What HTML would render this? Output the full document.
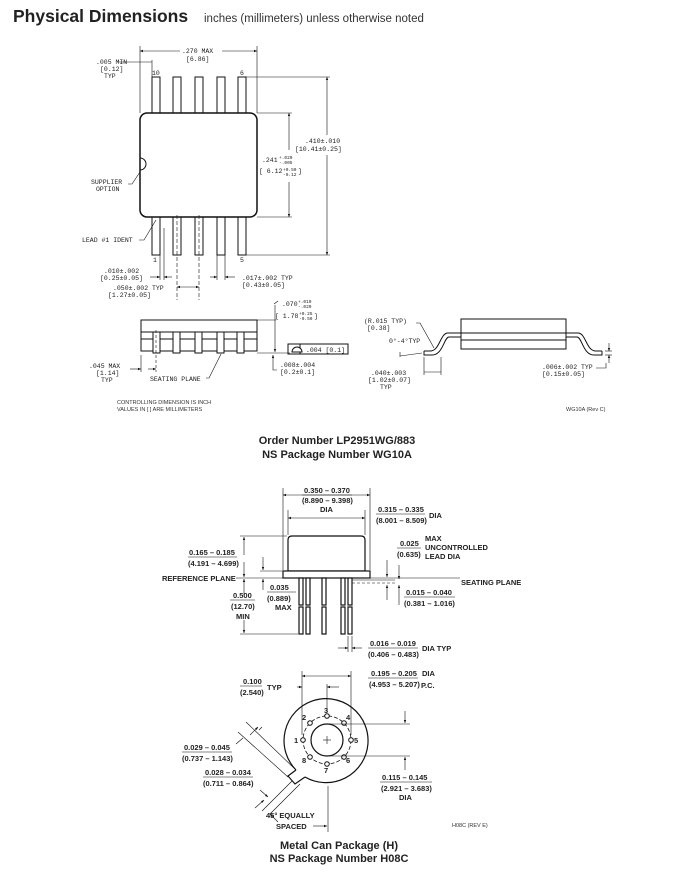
<!DOCTYPE html>
<html><head><meta charset="utf-8">
<style>
html,body{margin:0;padding:0;background:#fff;width:674px;height:878px;overflow:hidden}
svg{display:block}
.m{font-family:"Liberation Mono",monospace;font-size:6.5px;fill:#222}
.s{font-family:"Liberation Sans",sans-serif;font-size:7.5px;fill:#222;font-weight:bold}
.t{font-family:"Liberation Sans",sans-serif;font-size:5.5px;fill:#333}
</style></head><body>
<svg width="674" height="878" viewBox="0 0 674 878" xmlns="http://www.w3.org/2000/svg">
<defs><marker id="a" viewBox="0 0 10 10" refX="10" refY="5" markerWidth="5" markerHeight="5" orient="auto-start-reverse"><path d="M0,1 L10,5 L0,9z" fill="#111"/></marker></defs>
<text x="13" y="22" font-family="Liberation Sans,sans-serif" font-size="17.5" font-weight="bold" fill="#222">Physical Dimensions</text>
<text x="204" y="22" font-family="Liberation Sans,sans-serif" font-size="11.5" fill="#333">inches (millimeters) unless otherwise noted</text>

<g stroke="#111" fill="#fff" stroke-width="1">
<rect x="152" y="77" width="8" height="36"/><rect x="173" y="77" width="8" height="36"/><rect x="195" y="77" width="8" height="36"/><rect x="217" y="77" width="8" height="36"/><rect x="238" y="77" width="8" height="36"/>
<rect x="152" y="217" width="8" height="38"/><rect x="173" y="217" width="8" height="38"/><rect x="195" y="217" width="8" height="38"/><rect x="217" y="217" width="8" height="38"/><rect x="238" y="217" width="8" height="38"/>
<rect x="140" y="113" width="117" height="104" rx="7" stroke-width="1.5"/>
<path d="M140,158 a6,6 0 0 1 0,12" fill="none"/>
</g>
<g stroke="#111" stroke-width="0.6" fill="none">
<line x1="140" y1="46" x2="140" y2="113"/><line x1="257" y1="46" x2="257" y2="113"/>
<line x1="140" y1="51" x2="180" y2="51" marker-start="url(#a)"/><line x1="222" y1="51" x2="257" y2="51" marker-end="url(#a)"/>
<line x1="118" y1="62" x2="152" y2="62"/><line x1="152" y1="60" x2="152" y2="77"/>
<line x1="246" y1="77" x2="330" y2="77"/><line x1="246" y1="255" x2="330" y2="255"/>
<line x1="327" y1="135" x2="327" y2="77" marker-end="url(#a)"/><line x1="327" y1="155" x2="327" y2="255" marker-end="url(#a)"/>
<line x1="257" y1="113" x2="292" y2="113"/><line x1="257" y1="217" x2="292" y2="217"/>
<line x1="289" y1="150" x2="289" y2="113" marker-end="url(#a)"/><line x1="289" y1="182" x2="289" y2="217" marker-end="url(#a)"/>
<path d="M128,184 l4,0 l8,-12"/><path d="M139,240 l5,0 l12,-20"/>
<line x1="160" y1="255" x2="160" y2="280"/><line x1="164" y1="228" x2="164" y2="280"/>
<line x1="177" y1="215" x2="177" y2="300" stroke-dasharray="4,2"/><line x1="199" y1="215" x2="199" y2="300" stroke-dasharray="4,2"/>
<line x1="217" y1="255" x2="217" y2="280"/><line x1="225" y1="255" x2="225" y2="280"/>
<line x1="150" y1="277" x2="160" y2="277" marker-end="url(#a)"/><line x1="172" y1="277" x2="164" y2="277" marker-end="url(#a)"/>
<line x1="210" y1="277" x2="217" y2="277" marker-end="url(#a)"/><line x1="235" y1="277" x2="225" y2="277" marker-end="url(#a)"/>
<line x1="177" y1="287" x2="199" y2="287" marker-start="url(#a)" marker-end="url(#a)"/>
</g>
<g class="m">
<text x="182" y="53">.270  MAX</text><text x="186" y="61">[6.86]</text>
<text x="96" y="64">.005 MIN</text><text x="100" y="71">[0.12]</text><text x="104" y="78">TYP</text>
<text x="152" y="75">10</text><text x="240" y="75">6</text>
<text x="153" y="262">1</text><text x="240" y="262">5</text>
<text x="305" y="143">.410±.010</text><text x="295" y="151">[10.41±0.25]</text>
<text x="262" y="162">.241</text><text x="279" y="159" font-size="4.5">+.020</text><text x="279" y="164" font-size="4.5">-.005</text>
<text x="259" y="173">[ 6.12</text><text x="283" y="171" font-size="4.5">+0.50</text><text x="283" y="176" font-size="4.5">-0.12</text><text x="298" y="173">]</text>
<text x="91" y="184">SUPPLIER</text><text x="96" y="191">OPTION</text>
<text x="82" y="242">LEAD #1 IDENT</text>
<text x="104" y="273">.010±.002</text><text x="100" y="280">[0.25±0.05]</text>
<text x="242" y="280">.017±.002  TYP</text><text x="242" y="287">[0.43±0.05]</text>
<text x="113" y="290">.050±.002  TYP</text><text x="108" y="297">[1.27±0.05]</text>
</g>

<g stroke="#111" fill="#fff" stroke-width="1">
<rect x="141" y="320" width="116" height="31"/>
<line x1="141" y1="332" x2="257" y2="332"/><line x1="141" y1="339" x2="257" y2="339"/>
<rect x="153" y="332" width="7" height="21"/><rect x="173" y="332" width="7" height="21"/><rect x="195" y="332" width="7" height="21"/><rect x="217" y="332" width="7" height="21"/><rect x="237" y="332" width="7" height="21"/>
<rect x="288" y="344" width="60" height="10"/><line x1="300" y1="344" x2="300" y2="354"/>
<path d="M292,352 a5,5 0 0 1 10,0z"/>
</g>
<g stroke="#111" stroke-width="0.6" fill="none">
<line x1="257" y1="320" x2="276" y2="320"/><line x1="257" y1="353" x2="290" y2="353"/>
<line x1="275" y1="305" x2="275" y2="352" marker-end="url(#a)"/>
<line x1="273" y1="355" x2="273" y2="366" marker-start="url(#a)"/><path d="M273,366 l0,4 l4,0"/>
<path d="M274,304 l4,-3"/>
<line x1="141" y1="355" x2="141" y2="372"/><line x1="156" y1="330" x2="156" y2="372" stroke-dasharray="3,2"/>
<line x1="130" y1="369" x2="141" y2="369" marker-end="url(#a)"/><line x1="148" y1="369" x2="156" y2="369" marker-end="url(#a)"/>
<path d="M206,378 l3,0 l12,-24"/>
</g>
<g class="m">
<text x="282" y="306">.070</text><text x="298" y="303" font-size="4.5">+.010</text><text x="298" y="308" font-size="4.5">-.020</text>
<text x="275" y="318">[ 1.78</text><text x="299" y="315" font-size="4.5">+0.25</text><text x="299" y="320" font-size="4.5">-0.50</text><text x="314" y="318">]</text>
<text x="306" y="352">.004 [0.1]</text>
<text x="280" y="367">.008±.004</text><text x="280" y="374">[0.2±0.1]</text>
<text x="89" y="368">.045 MAX</text><text x="96" y="375">[1.14]</text><text x="101" y="382">TYP</text>
<text x="150" y="381">SEATING PLANE</text>
</g>
<text class="t" x="117" y="404">CONTROLLING DIMENSION IS INCH</text>
<text class="t" x="117" y="411">VALUES IN [ ] ARE MILLIMETERS</text>

<g stroke="#111" fill="none" stroke-width="1">
<rect x="461" y="319" width="105" height="30" fill="#fff"/>
<line x1="461" y1="333" x2="566" y2="333"/><line x1="461" y1="340" x2="566" y2="340"/>
<path d="M461,333 L448,333 C440,333 440,351 430,351 L424,351 M461,337 L449,337 C444,337 443,355 432,355 L424,355 L424,351"/>
<path d="M566,333 L578,333 C586,333 586,351 596,351 L602,351 M566,337 L577,337 C582,337 583,355 594,355 L602,355 L602,351"/>
</g>
<g stroke="#111" stroke-width="0.6" fill="none">
<path d="M416,323 l4,0 l14,25"/>
<line x1="424" y1="357" x2="424" y2="375"/><line x1="441" y1="357" x2="441" y2="375"/>
<line x1="424" y1="372" x2="441" y2="372"/>
<line x1="400" y1="356" x2="422" y2="353"/><line x1="400" y1="357" x2="400" y2="352"/>
<line x1="605" y1="351" x2="612" y2="351"/><line x1="605" y1="355" x2="612" y2="355"/>
<line x1="609" y1="343" x2="609" y2="351" marker-end="url(#a)"/><line x1="609" y1="363" x2="609" y2="355" marker-end="url(#a)"/>
<path d="M596,368 l10,0 l0,-5"/>
</g>
<g class="m">
<text x="364" y="323">(R.015  TYP)</text><text x="367" y="330">[0.38]</text>
<text x="389" y="343">0°-4°TYP</text>
<text x="371" y="375">.040±.003</text><text x="368" y="382">[1.02±0.07]</text><text x="380" y="389">TYP</text>
<text x="542" y="369">.006±.002  TYP</text><text x="542" y="376">[0.15±0.05]</text>
</g>
<text class="t" x="566" y="411" font-size="4.5">WG10A (Rev C)</text>

<text x="337" y="444" text-anchor="middle" font-family="Liberation Sans,sans-serif" font-size="11" font-weight="bold" fill="#222">Order Number LP2951WG/883</text>
<text x="337" y="458" text-anchor="middle" font-family="Liberation Sans,sans-serif" font-size="11" font-weight="bold" fill="#222">NS Package Number WG10A</text>

<g stroke="#111" fill="#fff" stroke-width="1.2">
<path d="M288,571 L288,540 Q288,536 292,536 L361,536 Q365,536 365,540 L365,571z"/>
<rect x="283" y="571" width="87" height="7"/>
<rect x="299" y="578" width="4" height="27"/><rect x="306" y="578" width="4" height="27"/><rect x="322" y="578" width="4" height="27"/><rect x="341" y="578" width="4" height="27"/><rect x="348" y="578" width="4" height="27"/>
<rect x="299" y="607" width="4" height="27"/><rect x="306" y="607" width="4" height="27"/><rect x="322" y="607" width="4" height="27"/><rect x="341" y="607" width="4" height="27"/><rect x="348" y="607" width="4" height="27"/>
</g>
<g stroke="#111" stroke-width="0.6" fill="none">
<line x1="283" y1="488" x2="283" y2="570"/><line x1="370" y1="488" x2="370" y2="570"/>
<line x1="288" y1="510" x2="288" y2="535"/><line x1="365" y1="510" x2="365" y2="535"/>
<line x1="283" y1="495" x2="370" y2="495" marker-start="url(#a)" marker-end="url(#a)"/>
<line x1="288" y1="518" x2="365" y2="518" marker-start="url(#a)" marker-end="url(#a)"/>
<line x1="240" y1="536" x2="287" y2="536"/><line x1="240" y1="634" x2="298" y2="634"/>
<line x1="244" y1="555" x2="244" y2="537" marker-end="url(#a)"/><line x1="244" y1="562" x2="244" y2="577" marker-end="url(#a)"/>
<line x1="244" y1="595" x2="244" y2="579" marker-end="url(#a)"/><line x1="244" y1="620" x2="244" y2="633" marker-end="url(#a)"/>
<line x1="260" y1="571" x2="283" y2="571"/><line x1="263" y1="557" x2="263" y2="570" marker-end="url(#a)"/><line x1="263" y1="590" x2="263" y2="579" marker-end="url(#a)"/>
<line x1="236" y1="578" x2="283" y2="578"/>
<line x1="370" y1="578" x2="460" y2="578"/><line x1="352" y1="583" x2="395" y2="583" stroke-dasharray="3,2"/><line x1="352" y1="580" x2="395" y2="580"/>
<line x1="387" y1="560" x2="387" y2="577" marker-end="url(#a)"/><line x1="387" y1="600" x2="387" y2="585" marker-end="url(#a)"/>
<line x1="399" y1="565" x2="399" y2="579" marker-end="url(#a)"/><line x1="399" y1="605" x2="399" y2="585" marker-end="url(#a)"/>
<line x1="348" y1="636" x2="348" y2="652"/><line x1="352" y1="636" x2="352" y2="652"/>
<line x1="338" y1="648" x2="348" y2="648" marker-end="url(#a)"/><line x1="362" y1="648" x2="352" y2="648" marker-end="url(#a)"/>
</g>
<g class="s">
<text x="304" y="493">0.350 – 0.370</text><line x1="302" y1="495" x2="352" y2="495" stroke="#111" stroke-width="0.6"/><text x="302" y="503">(8.890 – 9.398)</text><text x="320" y="512">DIA</text>
<text x="378" y="512">0.315 – 0.335</text><line x1="376" y1="514" x2="425" y2="514" stroke="#111" stroke-width="0.6"/><text x="376" y="523">(8.001 – 8.509)</text><text x="429" y="518">DIA</text>
<text x="189" y="555">0.165 – 0.185</text><line x1="188" y1="557" x2="237" y2="557" stroke="#111" stroke-width="0.6"/><text x="188" y="566">(4.191 – 4.699)</text>
<text x="162" y="581">REFERENCE PLANE</text>
<text x="400" y="546">0.025</text><line x1="397" y1="548" x2="421" y2="548" stroke="#111" stroke-width="0.6"/><text x="397" y="557">(0.635)</text>
<text x="425" y="541">MAX</text><text x="425" y="550">UNCONTROLLED</text><text x="425" y="559">LEAD DIA</text>
<text x="461" y="585">SEATING PLANE</text>
<text x="270" y="590">0.035</text><line x1="267" y1="592" x2="296" y2="592" stroke="#111" stroke-width="0.6"/><text x="267" y="601">(0.889)</text><text x="275" y="610">MAX</text>
<text x="233" y="598">0.500</text><line x1="230" y1="600" x2="255" y2="600" stroke="#111" stroke-width="0.6"/><text x="231" y="609">(12.70)</text><text x="236" y="619">MIN</text>
<text x="406" y="595">0.015 – 0.040</text><line x1="404" y1="597" x2="455" y2="597" stroke="#111" stroke-width="0.6"/><text x="404" y="606">(0.381 – 1.016)</text>
<text x="370" y="646">0.016 – 0.019</text><line x1="368" y1="648" x2="418" y2="648" stroke="#111" stroke-width="0.6"/><text x="368" y="657">(0.406 – 0.483)</text><text x="422" y="651">DIA TYP</text>
</g>

<g stroke="#111" fill="none" stroke-width="1.2">
<path d="M296,770 A42,42 0 1 1 305,777" />
<path d="M296,770 L288,776 L295,784 L305,777"/>
<circle cx="327" cy="740" r="16"/>
<circle cx="327" cy="740" r="24" stroke-width="0.8" stroke-dasharray="4,2"/>
</g>
<g fill="#fff" stroke="#111" stroke-width="1">
<circle cx="327" cy="716" r="2.3"/><circle cx="344" cy="723" r="2.3"/><circle cx="351" cy="740" r="2.3"/><circle cx="344" cy="757" r="2.3"/><circle cx="327" cy="764" r="2.3"/><circle cx="310" cy="757" r="2.3"/><circle cx="303" cy="740" r="2.3"/><circle cx="310" cy="723" r="2.3"/>
</g>
<g stroke="#111" stroke-width="0.6" fill="none">
<line x1="323" y1="740" x2="331" y2="740"/><line x1="327" y1="736" x2="327" y2="744"/>
<line x1="302" y1="671" x2="302" y2="735"/><line x1="351" y1="671" x2="351" y2="735"/>
<line x1="302" y1="676" x2="351" y2="676" marker-start="url(#a)" marker-end="url(#a)"/>
<line x1="327" y1="684" x2="327" y2="712"/>
<line x1="297" y1="687" x2="302" y2="687" marker-end="url(#a)"/><line x1="339" y1="687" x2="327" y2="687" marker-end="url(#a)"/>
<line x1="327" y1="724" x2="410" y2="724"/><line x1="327" y1="756" x2="410" y2="756"/>
<line x1="405" y1="711" x2="405" y2="723" marker-end="url(#a)"/><line x1="405" y1="770" x2="405" y2="757" marker-end="url(#a)"/>
<line x1="328" y1="786" x2="328" y2="832"/>
<line x1="313" y1="826" x2="327" y2="826" marker-end="url(#a)"/>
<line x1="246" y1="722" x2="296" y2="770"/><line x1="238" y1="732" x2="288" y2="777"/>
<line x1="250" y1="735" x2="258" y2="727" marker-end="url(#a)"/>
<line x1="259" y1="730" x2="262" y2="727"/>
<line x1="292" y1="781" x2="262" y2="811"/><line x1="300" y1="784" x2="270" y2="814"/>
<line x1="255" y1="808" x2="264" y2="800" marker-end="url(#a)"/>
<line x1="278" y1="822" x2="270" y2="814" marker-end="url(#a)"/>
<line x1="236" y1="744" x2="243" y2="738"/>
<line x1="260" y1="790" x2="268" y2="797" marker-end="url(#a)"/>
</g>
<g class="s">
<text x="371" y="676">0.195 – 0.205</text><line x1="368" y1="678" x2="418" y2="678" stroke="#111" stroke-width="0.6"/><text x="369" y="687">(4.953 – 5.207)</text>
<text x="422" y="676">DIA</text><text x="421" y="688">P.C.</text>
<text x="243" y="684">0.100</text><line x1="240" y1="686" x2="262" y2="686" stroke="#111" stroke-width="0.6"/><text x="240" y="695">(2.540)</text><text x="267" y="690">TYP</text>
<text x="324" y="713">3</text><text x="302" y="720">2</text><text x="346" y="720">4</text><text x="294" y="743">1</text><text x="354" y="743">5</text><text x="302" y="763">8</text><text x="346" y="763">6</text><text x="324" y="773">7</text>
<text x="184" y="750">0.029 – 0.045</text><line x1="182" y1="752" x2="232" y2="752" stroke="#111" stroke-width="0.6"/><text x="182" y="761">(0.737 – 1.143)</text>
<text x="205" y="775">0.028 – 0.034</text><line x1="203" y1="777" x2="253" y2="777" stroke="#111" stroke-width="0.6"/><text x="203" y="786">(0.711 – 0.864)</text>
<text x="382" y="780">0.115 – 0.145</text><line x1="380" y1="782" x2="432" y2="782" stroke="#111" stroke-width="0.6"/><text x="381" y="791">(2.921 – 3.683)</text><text x="399" y="800">DIA</text>
<text x="266" y="818">45° EQUALLY</text><text x="276" y="829">SPACED</text>
</g>
<text class="t" x="452" y="827" font-size="4.5">H08C (REV E)</text>
<text x="339" y="849" text-anchor="middle" font-family="Liberation Sans,sans-serif" font-size="11" font-weight="bold" fill="#222">Metal Can Package (H)</text>
<text x="339" y="862" text-anchor="middle" font-family="Liberation Sans,sans-serif" font-size="11" font-weight="bold" fill="#222">NS Package Number H08C</text>
</svg>
</body></html>
